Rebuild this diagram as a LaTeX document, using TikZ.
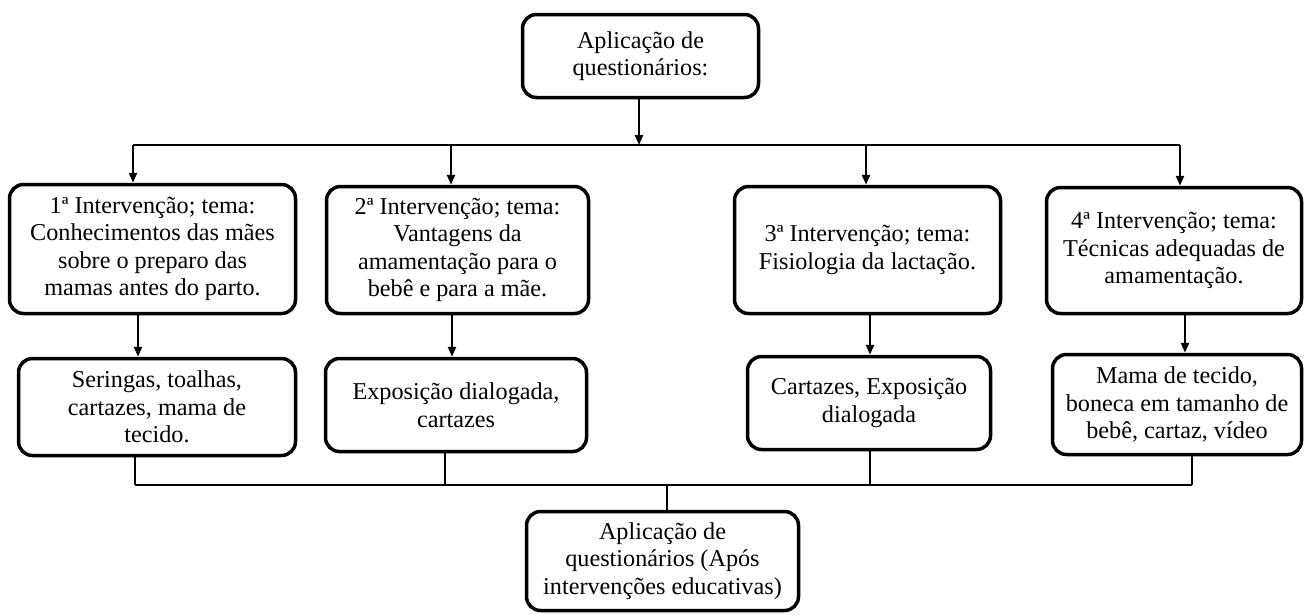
\documentclass[tikz,border=0pt]{standalone}
\usepackage{fontspec}
\setmainfont{Liberation Serif}
\usetikzlibrary{arrows.meta}
\begin{document}
\begin{tikzpicture}[x=1pt,y=-1pt,
  box/.style={draw, line width=3.5pt, rounded corners=14pt, inner sep=0pt, align=center,
    font=\fontsize{24.2}{27.5}\selectfont},
  conn/.style={line width=2.4pt},
  arr/.style={conn, -{Triangle[length=10pt,width=8pt]}}]
\useasboundingbox (0,0) rectangle (1305,614);

% nodes
\node[box, minimum width=236pt, minimum height=83pt] (t) at (640.5,56) {Aplicação de\\questionários:};

\node[box, minimum width=286pt, minimum height=129pt] (b1) at (152.5,249) {1ª Intervenção; tema:\\Conhecimentos das mães\\sobre o preparo das\\mamas antes do parto.};
\node[box, minimum width=262pt, minimum height=127pt] (b2) at (457.5,250) {2ª Intervenção; tema:\\Vantagens da\\amamentação para o\\bebê e para a mãe.};
\node[box, minimum width=266pt, minimum height=127pt] (b3) at (867.5,250) {3ª Intervenção; tema:\\Fisiologia da lactação.};
\node[box, minimum width=255pt, minimum height=126pt] (b4) at (1174,250.5) {4ª Intervenção; tema:\\Técnicas adequadas de\\amamentação.};

\node[box, minimum width=277pt, minimum height=97pt] (c1) at (157,407) {Seringas, toalhas,\\cartazes, mama de\\tecido.};
\node[box, minimum width=261pt, minimum height=93pt] (c2) at (456,405) {Exposição dialogada,\\cartazes};
\node[box, minimum width=243pt, minimum height=93pt] (c3) at (869,403) {Cartazes, Exposição\\dialogada};
\node[box, minimum width=249pt, minimum height=100pt] (c4) at (1177,404.5) {Mama de tecido,\\boneca em tamanho de\\bebê, cartaz, vídeo};

\node[box, minimum width=272pt, minimum height=99pt] (bot) at (662.5,561) {Aplicação de\\questionários (Após\\intervenções educativas)};

% guide coordinates
\coordinate (h1) at (133,145);
\coordinate (h2) at (451,145);
\coordinate (h3) at (866,145);
\coordinate (h4) at (1180,145);
\coordinate (v1) at (138,0);
\coordinate (v2) at (452,0);
\coordinate (v3) at (870,0);
\coordinate (v4) at (1185,0);
\coordinate (g1) at (135,485);
\coordinate (g2) at (445,485);
\coordinate (g3) at (870,485);
\coordinate (g4) at (1192,485);
\coordinate (gm) at (667,485);

% top distribution
\draw[arr] (t.south -| 639,0) -- (h1 -| 639,0);
\draw[conn] (h1) -- (h4);
\draw[arr] (h1) -- (h1 |- b1.north);
\draw[arr] (h2) -- (h2 |- b2.north);
\draw[arr] (h3) -- (h3 |- b3.north);
\draw[arr] (h4) -- (h4 |- b4.north);

% second row arrows
\draw[arr] (b1.south -| v1) -- (c1.north -| v1);
\draw[arr] (b2.south -| v2) -- (c2.north -| v2);
\draw[arr] (b3.south -| v3) -- (c3.north -| v3);
\draw[arr] (b4.south -| v4) -- (c4.north -| v4);

% collection
\draw[conn] (c1.south -| g1) -- (g1);
\draw[conn] (c2.south -| g2) -- (g2);
\draw[conn] (c3.south -| g3) -- (g3);
\draw[conn] (c4.south -| g4) -- (g4);
\draw[conn] (g1) -- (g4);
\draw[conn] (gm) -- (bot.north -| gm);
\end{tikzpicture}
\end{document}
